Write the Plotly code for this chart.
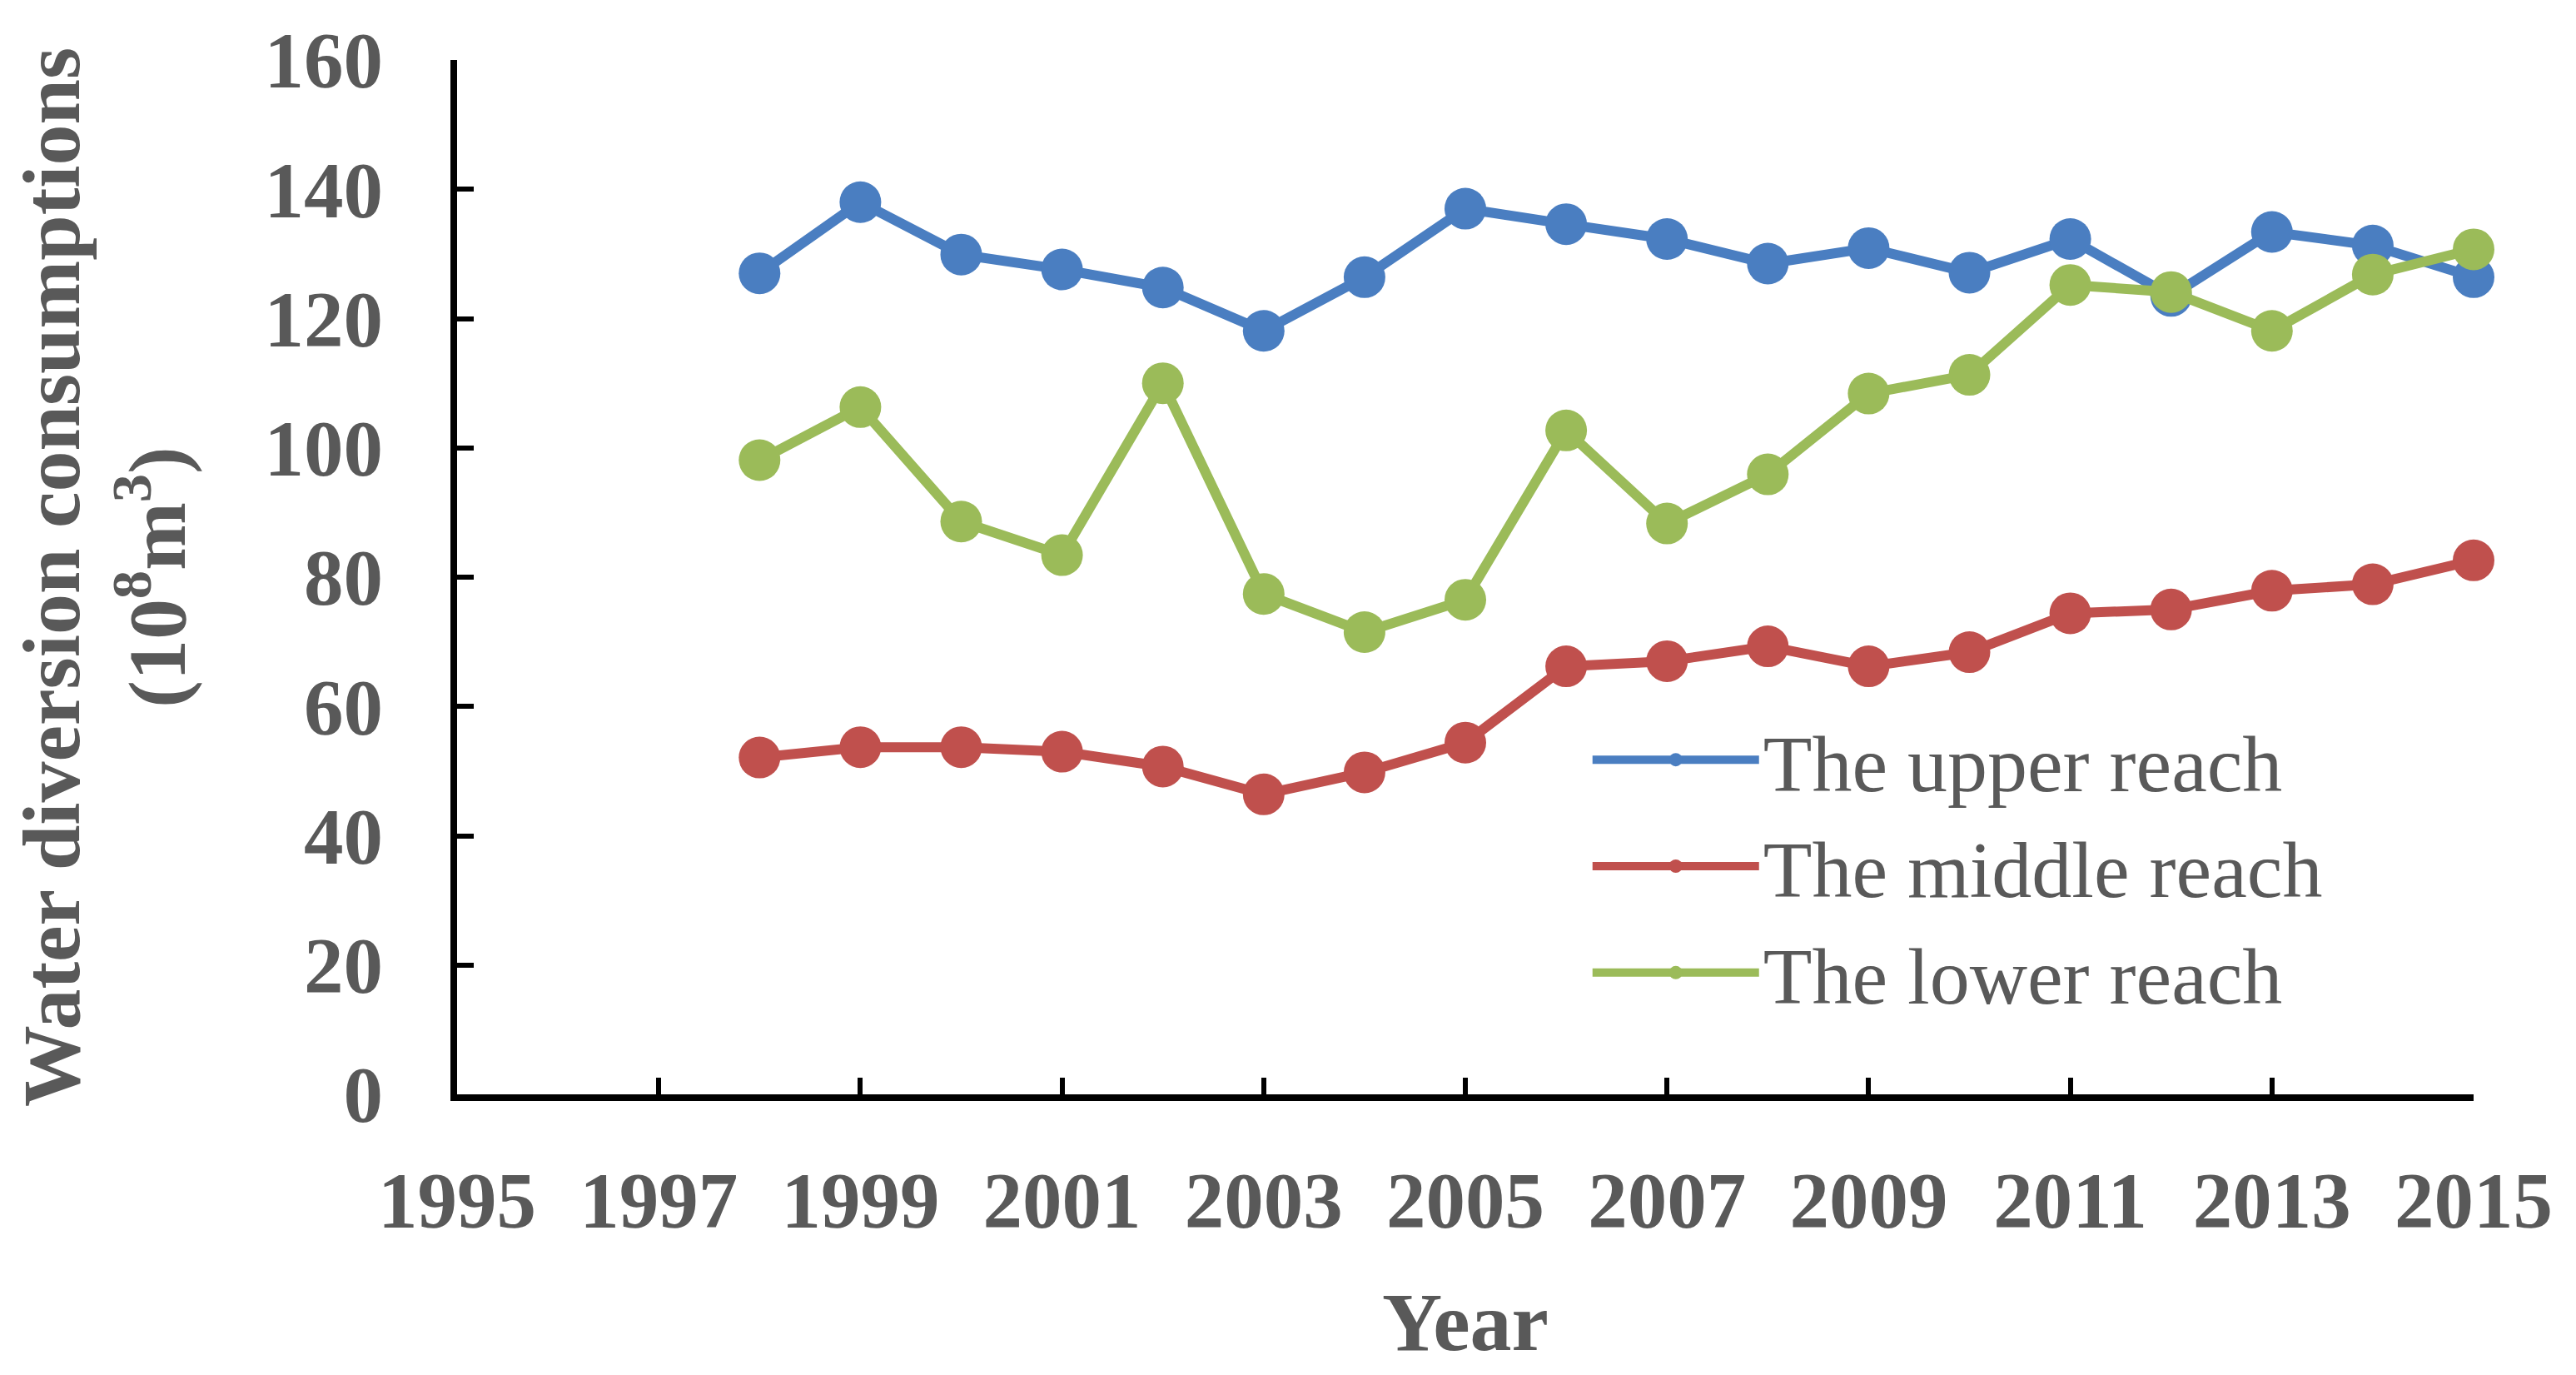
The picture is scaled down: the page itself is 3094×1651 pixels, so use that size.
import plotly.graph_objects as go

years = list(range(1998, 2016))
upper = [127.0, 138.0, 129.9, 127.6, 124.8, 118.1, 126.4, 137.0, 134.6, 132.3,
         128.5, 130.9, 127.1, 132.3, 123.5, 133.4, 131.3, 126.4]
middle = [52.1, 53.7, 53.7, 53.0, 50.7, 46.4, 49.8, 54.4, 66.2, 67.0,
          69.3, 66.2, 68.4, 74.4, 75.0, 77.9, 78.9, 82.6]
lower = [98.1, 106.3, 88.6, 83.4, 110.0, 77.4, 71.5, 76.5, 102.7, 88.3,
         95.9, 108.4, 111.3, 125.2, 124.1, 118.1, 126.8, 130.7]
series_names = ["The upper reach", "The middle reach", "The lower reach"]
colors = ["#4A7EC1", "#C0504D", "#9BBB59"]
x_ticks = list(range(1995, 2016, 2))
y_ticks = list(range(0, 161, 20))

FONT = "Liberation Serif, Times New Roman, serif"
GRAY = "#595959"

fig = go.Figure()
for name, vals, c in zip(series_names, [upper, middle, lower], colors):
    fig.add_trace(go.Scatter(
        x=years, y=vals, name=name, mode="lines+markers",
        line=dict(color=c, width=12),
        marker=dict(color=c, size=50),
        cliponaxis=False,
    ))

fig.update_layout(
    width=3078, height=1635,
    margin=dict(l=541, r=115, t=56, b=314),
    plot_bgcolor="white", paper_bgcolor="white",
    font=dict(family=FONT, color=GRAY),
    legend=dict(
        x=0.561, y=0.379, xanchor="left", yanchor="top",
        font=dict(family=FONT, size=96, color=GRAY),
        bgcolor="rgba(0,0,0,0)",
        itemwidth=200,
    ),
    showlegend=True,
)
fig.update_xaxes(
    range=[1995, 2015], tickvals=x_ticks, ticktext=[str(t) for t in x_ticks],
    showline=True, linecolor="black", linewidth=8,
    ticks="inside", ticklen=20, tickwidth=6, tickcolor="black",
    showgrid=False, zeroline=False,
    tickfont=dict(family=FONT, size=95, color=GRAY, weight="bold"),
    ticklabelstandoff=38,
    title=dict(text="<b>Year</b>", font=dict(family=FONT, size=100, color=GRAY), standoff=66),
)
fig.update_yaxes(
    range=[0, 160], tickvals=y_ticks,
    showline=True, linecolor="black", linewidth=8,
    ticks="inside", ticklen=20, tickwidth=6, tickcolor="black",
    showgrid=False, zeroline=False,
    tickfont=dict(family=FONT, size=95, color=GRAY, weight="bold"),
    ticklabelstandoff=62,
    title=dict(text="<b>Water diversion consumptions<br>(10<sup>8</sup>m<sup>3</sup>)</b>",
               font=dict(family=FONT, size=98, color=GRAY), standoff=68),
)

fig.write_html("out.html")
